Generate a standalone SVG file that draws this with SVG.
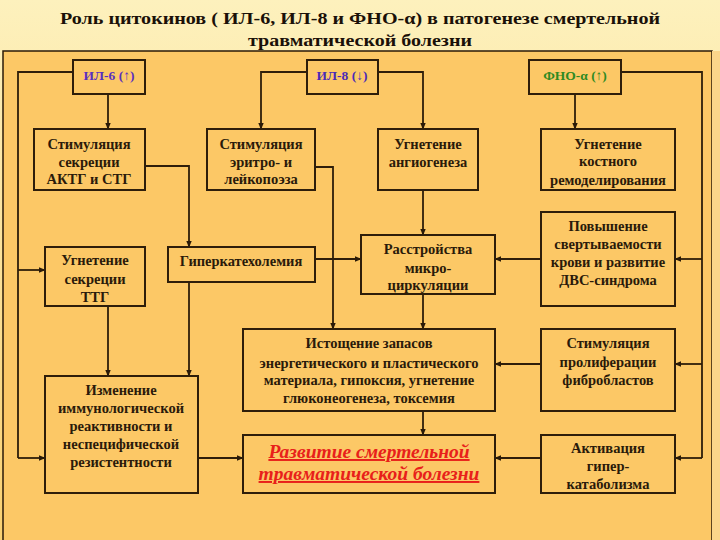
<svg xmlns="http://www.w3.org/2000/svg" width="720" height="540" viewBox="0 0 720 540">
<defs>
<linearGradient id="bg" x1="0" y1="0" x2="0" y2="1">
<stop offset="0" stop-color="#fdf1bd"/>
<stop offset="1" stop-color="#f9d071"/>
</linearGradient>
<marker id="ah" viewBox="0 0 10 10" refX="9" refY="5" markerWidth="7" markerHeight="7" markerUnits="userSpaceOnUse" orient="auto">
<path d="M0,1 L10,5 L0,9 z" fill="#2a1a08"/>
</marker>
<style>
.box{fill:#fcc866;stroke:#2e1e0a;stroke-width:2}
.t{font-family:"Liberation Serif","Times New Roman",serif;font-weight:bold;font-size:14.5px;fill:#2a1a0a;text-anchor:middle}
.h{font-family:"Liberation Serif","Times New Roman",serif;font-weight:bold;font-size:13.5px;text-anchor:middle}
.r{font-family:"Liberation Serif","Times New Roman",serif;font-weight:bold;font-style:italic;font-size:19.5px;fill:#e8201a;text-anchor:middle;text-decoration:underline}
.c{fill:none;stroke:#2e1e0a;stroke-width:1.8;marker-end:url(#ah)}
.n{fill:none;stroke:#2e1e0a;stroke-width:1.8}
.ti{font-family:"Liberation Serif","Times New Roman",serif;font-weight:bold;font-size:17px;fill:#1a1008;text-anchor:middle}
</style>
</defs>
<rect x="0" y="0" width="720" height="540" fill="url(#bg)"/>
<rect x="3" y="51" width="709" height="500" fill="#fcc866" stroke="#2a1a08" stroke-width="1.5"/>
<rect x="712" y="51" width="8" height="489" fill="#fbd68a"/>
<text class="ti" x="360" y="24" textLength="600" lengthAdjust="spacingAndGlyphs">Роль цитокинов ( ИЛ-6, ИЛ-8 и ФНО-α) в патогенезе смертельной</text>
<text class="ti" x="360" y="46" textLength="224" lengthAdjust="spacingAndGlyphs">травматической болезни</text>

<g id="connectors">
<path class="n" d="M73,72 H18 V458"/>
<path class="c" d="M18,270 H45"/>
<path class="c" d="M18,458 H45"/>
<path class="c" d="M108,94 V129"/>
<path class="c" d="M145,166 H189 V247"/>
<path class="c" d="M189,282 V376"/>
<path class="c" d="M108,306 V376"/>
<path class="c" d="M307,72 H261 V129"/>
<path class="c" d="M315,167 H333 V329"/>
<path class="c" d="M315,259 H361"/>
<path class="c" d="M378,72 H423 V129"/>
<path class="c" d="M423,190 V235"/>
<path class="c" d="M423,294 V329"/>
<path class="c" d="M423,411 V435"/>
<path class="c" d="M198,458 H243"/>
<path class="c" d="M575,94 V129"/>
<path class="n" d="M621,72 H702 V458"/>
<path class="c" d="M702,259 H675"/>
<path class="c" d="M702,364 H675"/>
<path class="c" d="M702,458 H675"/>
<path class="c" d="M541,259 H495"/>
<path class="c" d="M541,364 H495"/>
<path class="c" d="M541,458 H495"/>
</g>

<g id="il6"><rect class="box" x="73" y="60" width="72" height="34"/><text class="h" x="109" y="80" fill="#5a2fc0">ИЛ-6 (↑)</text></g>
<g id="il8"><rect class="box" x="307" y="60" width="71" height="34"/><text class="h" x="342" y="80" fill="#4a2ab8">ИЛ-8 (↓)</text></g>
<g id="tnf"><rect class="box" x="529" y="60" width="92" height="34"/><text class="h" x="575" y="80" fill="#2e8a22">ФНО-α (↑)</text></g>

<g id="acth"><rect class="box" x="34" y="129" width="111" height="61"/>
<text class="t" x="89" y="149">Стимуляция</text><text class="t" x="89" y="167">секреции</text><text class="t" x="89" y="184">АКТГ и СТГ</text></g>
<g id="erythro"><rect class="box" x="207" y="129" width="108" height="61"/>
<text class="t" x="261" y="149">Стимуляция</text><text class="t" x="261" y="167">эритро- и</text><text class="t" x="261" y="184">лейкопоэза</text></g>
<g id="angio"><rect class="box" x="378" y="129" width="100" height="61"/>
<text class="t" x="428" y="149">Угнетение</text><text class="t" x="428" y="167">ангиогенеза</text></g>
<g id="bone"><rect class="box" x="541" y="129" width="134" height="61"/>
<text class="t" x="608" y="149">Угнетение</text><text class="t" x="608" y="166">костного</text><text class="t" x="608" y="185">ремоделирования</text></g>

<g id="tsh"><rect class="box" x="45" y="247" width="100" height="59"/>
<text class="t" x="95" y="265">Угнетение</text><text class="t" x="95" y="284">секреции</text><text class="t" x="95" y="302">ТТГ</text></g>
<g id="hypercat"><rect class="box" x="168" y="247" width="147" height="35"/>
<text class="t" x="241" y="266">Гиперкатехолемия</text></g>
<g id="micro"><rect class="box" x="361" y="235" width="134" height="59"/>
<text class="t" x="428" y="254">Расстройства</text><text class="t" x="428" y="273">микро-</text><text class="t" x="428" y="290">циркуляции</text></g>
<g id="dic"><rect class="box" x="541" y="212" width="134" height="94"/>
<text class="t" x="608" y="231">Повышение</text><text class="t" x="608" y="249">свертываемости</text><text class="t" x="608" y="267">крови и развитие</text><text class="t" x="608" y="285">ДВС-синдрома</text></g>

<g id="exhaust"><rect class="box" x="243" y="329" width="252" height="82"/>
<text class="t" x="369" y="348">Истощение запасов</text><text class="t" x="369" y="368">энергетического и пластического</text><text class="t" x="369" y="385">материала, гипоксия, угнетение</text><text class="t" x="369" y="403">глюконеогенеза, токсемия</text></g>
<g id="fibro"><rect class="box" x="541" y="329" width="134" height="82"/>
<text class="t" x="608" y="348">Стимуляция</text><text class="t" x="608" y="367">пролиферации</text><text class="t" x="608" y="385">фибробластов</text></g>

<g id="immune"><rect class="box" x="45" y="376" width="153" height="117"/>
<text class="t" x="121" y="395">Изменение</text><text class="t" x="121" y="413">иммунологической</text><text class="t" x="121" y="431">реактивности и</text><text class="t" x="121" y="449">неспецифической</text><text class="t" x="121" y="467">резистентности</text></g>
<g id="disease"><rect class="box" x="243" y="435" width="252" height="58"/>
<text class="r" x="369" y="458">Развитие смертельной</text>
<text class="r" x="369" y="480">травматической болезни</text></g>
<g id="catab"><rect class="box" x="541" y="435" width="134" height="58"/>
<text class="t" x="608" y="453">Активация</text><text class="t" x="608" y="471">гипер-</text><text class="t" x="608" y="489">катаболизма</text></g>
</svg>
